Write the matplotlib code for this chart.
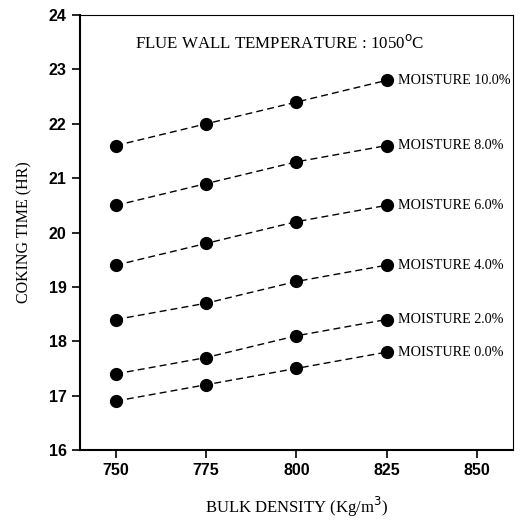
import numpy as np
import matplotlib
matplotlib.use('Agg')
import matplotlib.pyplot as plt

# Bulk density (Kg/m3) and coking time (HR) for each moisture level
density = [750, 775, 800, 825]
moisture_labels = ['MOISTURE 0.0%', 'MOISTURE 2.0%', 'MOISTURE 4.0%',
                   'MOISTURE 6.0%', 'MOISTURE 8.0%', 'MOISTURE 10.0%']
m00 = [16.9, 17.2, 17.5, 17.8]
m02 = [17.4, 17.7, 18.1, 18.4]
m04 = [18.4, 18.7, 19.1, 19.4]
m06 = [19.4, 19.8, 20.2, 20.5]
m08 = [20.5, 20.9, 21.3, 21.6]
m10 = [21.6, 22.0, 22.4, 22.8]
series = [m00, m02, m04, m06, m08, m10]

xticks = [750, 775, 800, 825, 850]
yticks = [16, 17, 18, 19, 20, 21, 22, 23, 24]

serif = 'Liberation Serif'
sans = 'Liberation Sans'

fig = plt.figure(figsize=(5.32, 5.22), dpi=100)
ax = fig.add_axes([0.150, 0.138, 0.814, 0.833])

for y, lab in zip(series, moisture_labels):
    ax.plot(density, y, '--', color='black', lw=1.0, dashes=(5, 3),
            marker='o', markersize=8.5, markerfacecolor='black')
    ax.annotate(lab, xy=(density[-1], y[-1]), xytext=(8, 0),
                textcoords='offset points', va='center', ha='left',
                fontsize=10.2, family=serif)

ax.text(0.127, 0.935, 'FLUE WALL TEMPERATURE : 1050$^{\\rm o}$C',
        transform=ax.transAxes, fontsize=12.2, family=serif, va='center')

ax.set_xlim(740, 860)
ax.set_ylim(16, 24)
ax.set_xticks(xticks)
ax.set_yticks(yticks)
ax.tick_params(direction='out', length=6, width=1.2, labelsize=11.5)
for lab in ax.get_xticklabels() + ax.get_yticklabels():
    lab.set_fontfamily(sans)
    lab.set_fontweight('bold')

for s in ['left', 'bottom']:
    ax.spines[s].set_linewidth(1.5)
for s in ['top', 'right']:
    ax.spines[s].set_linewidth(0.8)

ax.set_xlabel('BULK DENSITY (Kg/m$^3$)', fontsize=12, family=serif, labelpad=12)
ax.set_ylabel('COKING TIME (HR)', fontsize=11.5, family=serif, labelpad=12)

fig.savefig('out.png', dpi=100)
